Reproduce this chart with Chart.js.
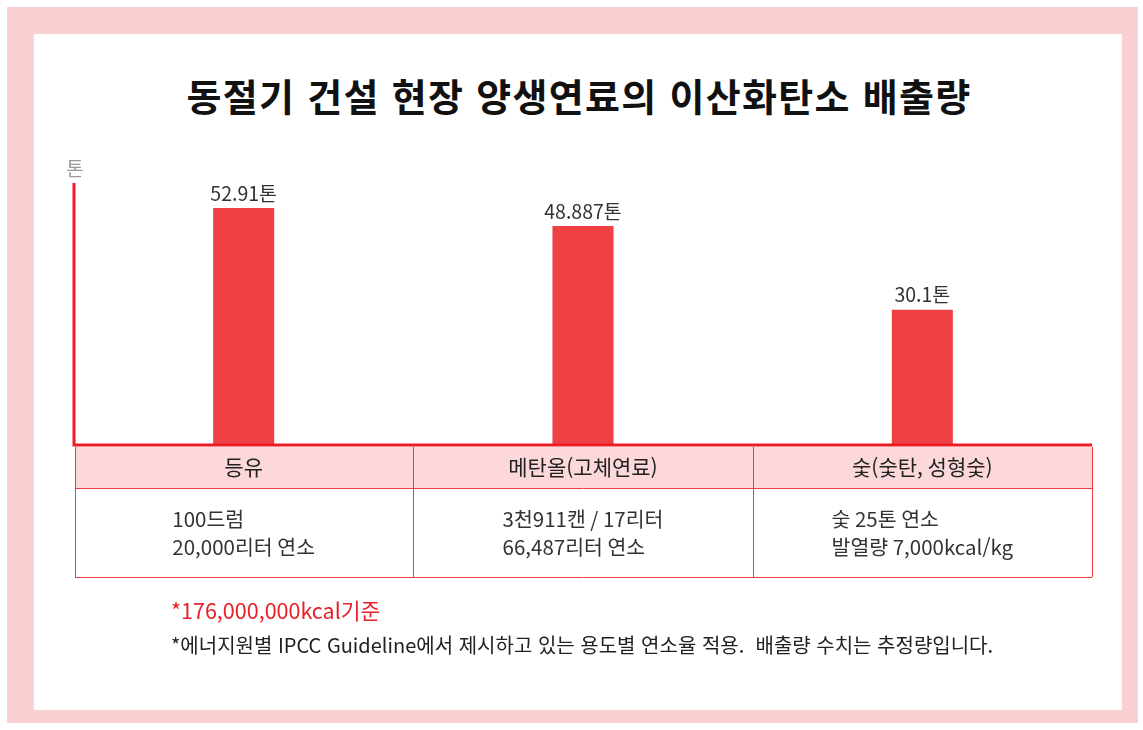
<!DOCTYPE html>
<html lang="ko">
<head>
<meta charset="utf-8">
<script src="https://cdn.jsdelivr.net/npm/chart.js@4.4.0/dist/chart.umd.min.js"></script>
<style>
  body { margin: 0; background: #fff; font-family: "Noto Sans CJK KR", "Noto Sans", sans-serif; }
  #frame { position: absolute; left: 7px; top: 7px; width: 1131px; height: 716px; background: #fbd0d3; }
  #inner { position: absolute; left: 34px; top: 34px; width: 1088px; height: 676px; background: #fff; }
  #title { position: absolute; left: 34px; top: 69px; width: 1090px; text-align: center;
           font-size: 38px; font-weight: bold; color: #111; line-height: 52px; letter-spacing: 1.3px; }
  #chartBox { position: absolute; left: 34px; top: 34px; width: 1088px; height: 676px; }
  .note { position: absolute; left: 171px; white-space: pre; }
  #note1 { top: 594px; font-size: 21.5px; color: #e8202a; }
  #note2 { top: 630px; font-size: 20px; color: #222; }
</style>
</head>
<body>
<div id="frame"></div>
<div id="inner"></div>
<div id="title">동절기 건설 현장 양생연료의 이산화탄소 배출량</div>
<div id="chartBox"><canvas id="myChart"></canvas></div>
<div class="note" id="note1">*176,000,000kcal기준</div>
<div class="note" id="note2">*에너지원별 IPCC Guideline에서 제시하고 있는 용도별 연소율 적용.  배출량 수치는 추정량입니다.</div>

<script>
const fuels = ["등유", "메탄올(고체연료)", "숯(숯탄, 성형숯)"];
const emissions = [52.91, 48.887, 30.1];
const valueLabels = ["52.91톤", "48.887톤", "30.1톤"];
const details = [
    ["100드럼", "20,000리터 연소"],
    ["3천911캔 / 17리터", "66,487리터 연소"],
    ["숯 25톤 연소", "발열량 7,000kcal/kg"]
];
const unitLabel = "톤";

const red = "#ec1c24";
const font = '"Noto Sans CJK KR", "Noto Sans", sans-serif';

// value labels above bars + axis lines
const labelPlugin = {
    id: "valueLabels",
    afterDatasetsDraw(chart) {
        const ctx = chart.ctx;
        const area = chart.chartArea;
        ctx.save();
        ctx.fillStyle = "#333";
        ctx.font = "19.5px " + font;
        ctx.textAlign = "center";
        ctx.textBaseline = "bottom";
        chart.getDatasetMeta(0).data.forEach((bar, i) => {
            ctx.fillText(valueLabels[i], bar.x, bar.y - 5);
        });

        ctx.strokeStyle = red;
        ctx.lineWidth = 3;
        ctx.beginPath();
        ctx.moveTo(area.left, area.top);
        ctx.lineTo(area.left, area.bottom + 1);
        ctx.lineTo(area.right, area.bottom + 1);
        ctx.stroke();

        ctx.fillStyle = "#999";
        ctx.font = "19px " + font;
        ctx.textAlign = "center";
        ctx.fillText(unitLabel, area.left + 1, area.top - 5);
        ctx.restore();
    }
};

// table under the x axis, one column per category
const tablePlugin = {
    id: "fuelTable",
    afterDraw(chart) {
        const ctx = chart.ctx;
        const area = chart.chartArea;
        const xs = chart.scales.x;
        const colW = (area.right - area.left) / fuels.length;
        const left = area.left + 1;
        const top = area.bottom + 3;
        const headH = 41;
        const bodyH = 89;
        ctx.save();
        ctx.fillStyle = "#fcd8db";
        ctx.fillRect(left, top, area.right - left, headH);

        ctx.strokeStyle = "#ee3a43";
        ctx.lineWidth = 1;
        ctx.beginPath();
        ctx.moveTo(left, top + headH + 0.5);
        ctx.lineTo(area.right, top + headH + 0.5);
        ctx.moveTo(left, top + headH + bodyH + 0.5);
        ctx.lineTo(area.right, top + headH + bodyH + 0.5);
        for (let i = 0; i <= fuels.length; i++) {
            const x = Math.round(i === 0 ? left : area.left + i * colW) + 0.5;
            ctx.moveTo(x, top);
            ctx.lineTo(x, top + headH + bodyH);
        }
        ctx.stroke();

        ctx.textBaseline = "middle";
        fuels.forEach((name, i) => {
            const cx = xs.getPixelForValue(i);
            ctx.fillStyle = "#222";
            ctx.font = "21px " + font;
            ctx.textAlign = "center";
            ctx.fillText(name, cx, top + headH / 2);

            ctx.fillStyle = "#333";
            ctx.font = "20.5px " + font;
            const lines = details[i];
            const w = Math.max(...lines.map(l => ctx.measureText(l).width));
            ctx.textAlign = "left";
            lines.forEach((line, j) => {
                ctx.fillText(line, cx - w / 2, top + headH + 31 + j * 28);
            });
        });
        ctx.restore();
    }
};

new Chart(document.getElementById("myChart").getContext("2d"), {
    type: "bar",
    data: {
        labels: fuels,
        datasets: [{
            data: emissions,
            backgroundColor: "#ef4044",
            borderWidth: 0,
            barPercentage: 0.18,
            categoryPercentage: 1
        }]
    },
    options: {
        responsive: true,
        maintainAspectRatio: false,
        animation: false,
        layout: { padding: { left: 40, right: 30, top: 149, bottom: 266 } },
        plugins: {
            legend: { display: false },
            tooltip: { enabled: false }
        },
        scales: {
            x: { display: false },
            y: { display: false, min: 0, max: 58.5 }
        }
    },
    plugins: [labelPlugin, tablePlugin]
});
</script>
</body>
</html>
